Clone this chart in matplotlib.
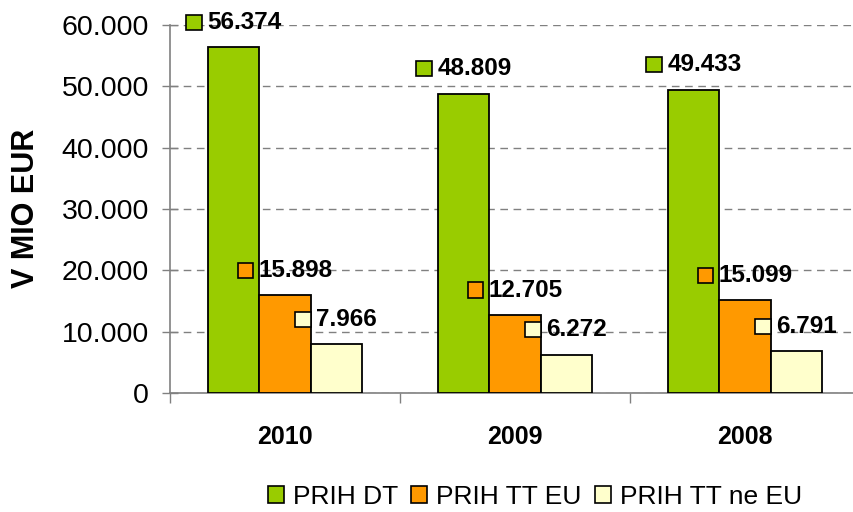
import numpy as np
import matplotlib.pyplot as plt
from matplotlib.patches import Patch, Rectangle
from matplotlib.offsetbox import AnnotationBbox, DrawingArea, TextArea, HPacker
from matplotlib.ticker import FuncFormatter

plt.rcParams['font.family'] = ['Liberation Sans', 'DejaVu Sans']

# data
years = ['2010', '2009', '2008']
series_names = ['PRIH DT', 'PRIH TT EU', 'PRIH TT ne EU']
prih_dt = [56374, 48809, 49433]
prih_tt_eu = [15898, 12705, 15099]
prih_tt_ne_eu = [7966, 6272, 6791]

colors = ['#99CC00', '#FF9900', '#FFFFCC']


def fmt_thousands(v):
    return f"{int(round(v)):,}".replace(',', '.')


fig = plt.figure(figsize=(8.54, 5.12), dpi=100)
ax = fig.add_axes([170 / 854, 119 / 512, 690 / 854, 368 / 512])

x = np.arange(len(years))
bar_w = 0.222
all_series = [prih_dt, prih_tt_eu, prih_tt_ne_eu]

for i, (vals, col) in enumerate(zip(all_series, colors)):
    pos = x + (i - 1) * bar_w
    ax.bar(pos, vals, width=bar_w, color=col, edgecolor='black', linewidth=1.3, zorder=3)
    # data labels with a small legend key in front, like Excel
    for xp, v in zip(pos, vals):
        key = DrawingArea(11, 11, 0, 0)
        key.add_artist(Rectangle((0, 0), 11, 11, facecolor=col, edgecolor='black', linewidth=1.2))
        txt = TextArea(fmt_thousands(v), textprops=dict(fontsize=17.5, fontweight='bold'))
        box = HPacker(children=[key, txt], align='center', pad=0, sep=4)
        ab = AnnotationBbox(box, (xp, v), xybox=(0, 18), boxcoords='offset points',
                            frameon=False, box_alignment=(0.5, 0.5), zorder=5,
                            annotation_clip=False)
        ax.add_artist(ab)

ax.set_xlim(-0.5, 2.5)
ax.set_ylim(0, 60000)
ax.set_yticks(np.arange(0, 60001, 10000))
ax.yaxis.set_major_formatter(FuncFormatter(lambda v, p: fmt_thousands(v)))
ax.tick_params(axis='y', direction='inout', length=12, width=1, color='#808080',
               labelsize=20.5, pad=9)

# category boundaries as ticks, names centered
ax.set_xticks([-0.5, 0.5, 1.5, 2.5])
ax.set_xticklabels([])
ax.set_xticks(x, minor=True)
ax.set_xticklabels(years, minor=True, fontsize=18, fontweight='bold')
ax.tick_params(axis='x', which='major', direction='out', length=7, width=1, color='#808080')
ax.tick_params(axis='x', which='minor', length=0, pad=23)

ax.yaxis.grid(True, linestyle=(0, (5.5, 4)), color='#808080', linewidth=1, zorder=0)
ax.set_axisbelow(True)
for s in ['top', 'right']:
    ax.spines[s].set_visible(False)
ax.spines['left'].set_color('#808080')
ax.spines['bottom'].set_color('#808080')
ax.spines['left'].set_linewidth(1.2)
ax.spines['bottom'].set_linewidth(1.2)

fig.text(26 / 854, 1 - 208 / 512, 'V MIO EUR', rotation=90, fontsize=22, fontweight='bold',
         ha='center', va='center')

handles = [Patch(facecolor=c, edgecolor='black', linewidth=1.2) for c in colors]
fig.legend(handles, series_names, loc='center', bbox_to_anchor=(535 / 854, 1 - 497 / 512),
           ncol=3, frameon=False, fontsize=19, handlelength=0.6, handleheight=0.6,
           handletextpad=0.35, columnspacing=0.5)

fig.savefig('out.png', dpi=100)
